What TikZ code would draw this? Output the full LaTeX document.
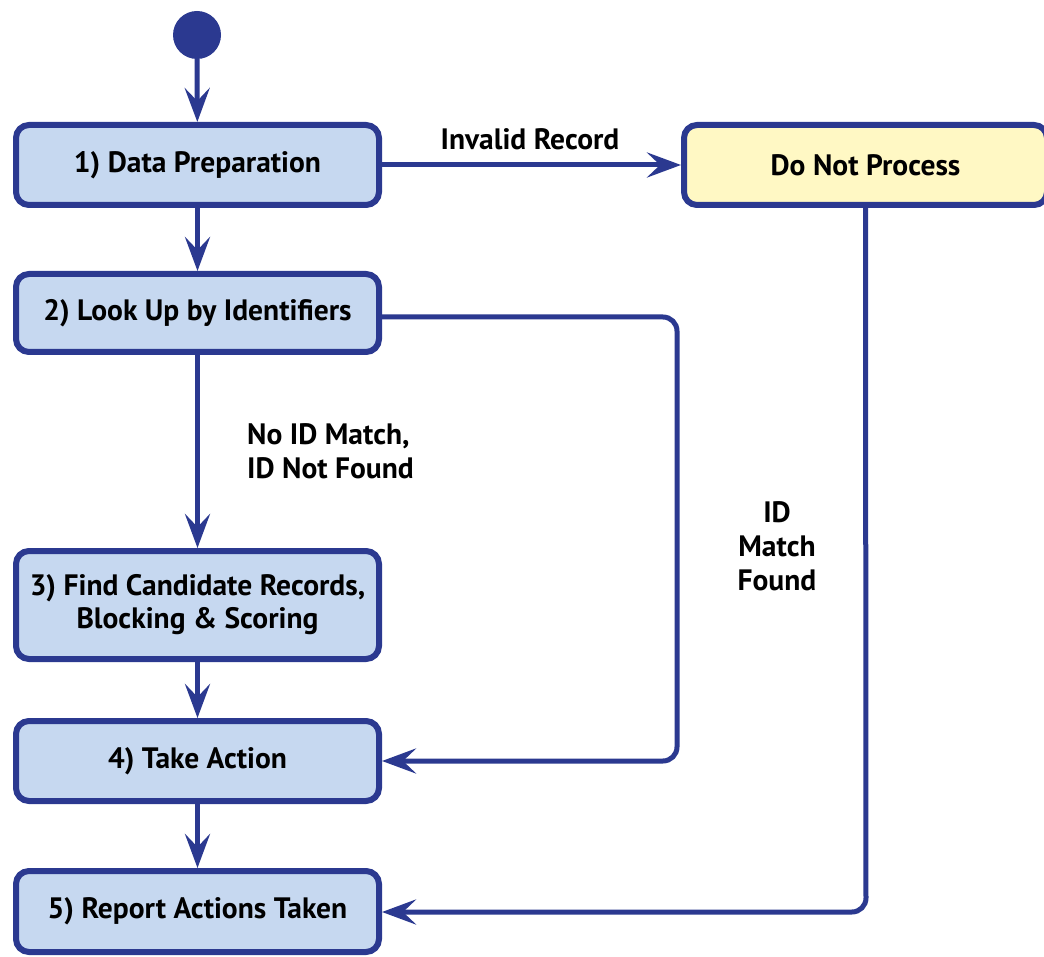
\documentclass[tikz,border=0pt]{standalone}
\usepackage{fontspec}
\setmainfont{PT Sans}
\usetikzlibrary{arrows.meta}
\definecolor{dblue}{HTML}{2B3990}
\definecolor{lblue}{HTML}{C6D8F0}
\definecolor{lyellow}{HTML}{FFF8C4}
\tikzset{
  box/.style={draw=dblue, line width=6pt, rounded corners=13pt, fill=lblue, minimum width=363pt, align=center, font=\fontsize{29.5}{33}\selectfont\bfseries, inner sep=0pt},
  conn/.style={draw=dblue, line width=5pt, -{Stealth[length=34pt,width=25pt,inset=13pt]}},
  lbl/.style={font=\fontsize{29.5}{34}\selectfont\bfseries, inner sep=0pt}
}
\begin{document}
\begin{tikzpicture}[x=1pt,y=-1pt]
\useasboundingbox (0,0) rectangle (1044,957);
\begin{scope}
\clip (0,0) rectangle (1044,957);
\fill[white] (0,0) rectangle (1044,957);
\node[circle, fill=dblue, minimum size=48pt, inner sep=0pt] (start) at (197,35) {};
\node[box, minimum height=80pt] (b1) at (197.5,165) {1) Data Preparation};
\node[box, minimum height=80pt, fill=lyellow] (dnp) at (865.5,165) {Do Not Process};
\node[box, minimum height=78pt] (b2) at (197.5,313) {2) Look Up by Identifiers};
\node[box, minimum height=108pt] (b3) at (197.5,605) {3) Find Candidate Records,\\Blocking \& Scoring};
\node[box, minimum height=80pt] (b4) at (197.5,761) {4) Take Action};
\node[box, minimum height=81pt] (b5) at (197.5,911.5) {5) Report Actions Taken};
\coordinate (r1) at (677,317);
\coordinate (r2) at (866,912);

\draw[conn] (start) -- (b1);
\draw[conn] (b1) -- (b2);
\draw[conn] (b2) -- (b3);
\draw[conn] (b3) -- (b4);
\draw[conn] (b4) -- (b5);
\draw[conn] (b1.east) -- (dnp.west);
\draw[conn, rounded corners=14pt] (b2.east |- r1) -- (r1) |- (b4.east);
\draw[conn, rounded corners=14pt] (dnp.south) -- (r2) -- (b5.east |- r2);

\node[lbl] (l1) at (530,139) {Invalid Record};
\node[lbl, align=left, anchor=west] (l2) at (247,451) {No ID Match,\\ID Not Found};
\node[lbl, align=center] (l3) at (777,546) {ID\\Match\\Found};
\end{scope}
\end{tikzpicture}
\end{document}
